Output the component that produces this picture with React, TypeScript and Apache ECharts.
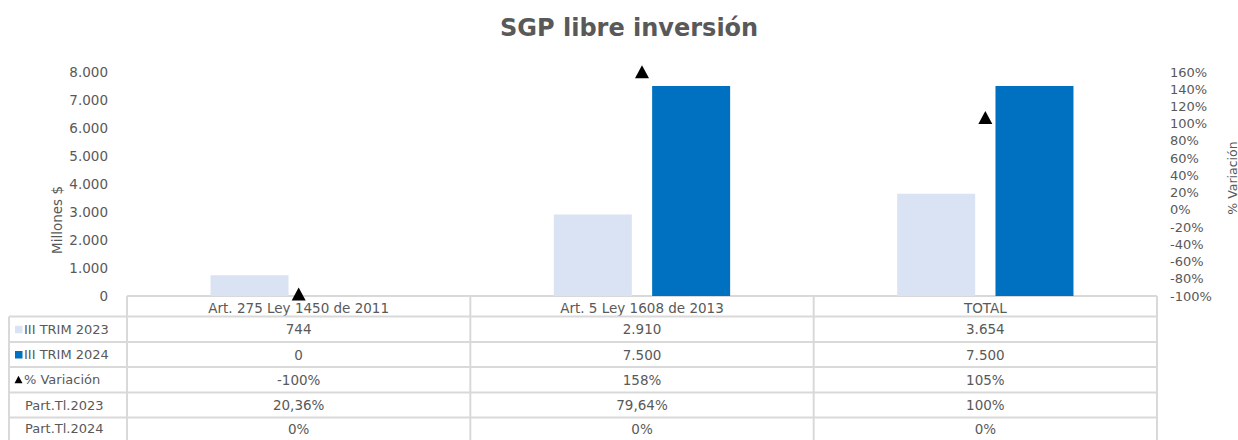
import React, { useEffect, useRef } from "react";
import * as echarts from "echarts";

const categories = ["Art. 275 Ley 1450 de 2011", "Art. 5 Ley 1608 de 2013", "TOTAL"];
const trim2023 = [744, 2910, 3654];
const trim2024 = [0, 7500, 7500];
const variacion = [-100, 158, 105];
const part2023 = ["20,36%", "79,64%", "100%"];
const part2024 = ["0%", "0%", "0%"];
const seriesNames = ["III TRIM 2023", "III TRIM 2024", "% Variación"];
const partNames = ["Part.Tl.2023", "Part.Tl.2024"];

const LIGHT = "#DAE3F3";
const DARK = "#0070C0";
const TEXT = "#595959";
const GRIDLINE = "#d9d9d9";
const FONT = "'DejaVu Sans', Verdana, sans-serif";

const fmt = (n: number) => String(n).replace(/\B(?=(\d{3})+(?!\d))/g, ".");

export default function App() {
  const ref = useRef<HTMLDivElement>(null);
  useEffect(() => {
    if (!ref.current) return;
    const chart = echarts.init(ref.current, null, { renderer: "svg" });
    const W = 1238;
    const gl = 127, gr = 1157, gt = 72, gb = 296;
    const rowYs = [296, 316.5, 342, 367, 392.5, 417.5, 440];
    const labelLeft = 9;
    const colW = (gr - gl) / categories.length;

    const rows = [
      { name: seriesNames[0], key: "square", color: LIGHT, vals: trim2023.map(fmt) },
      { name: seriesNames[1], key: "square", color: DARK, vals: trim2024.map(fmt) },
      { name: seriesNames[2], key: "triangle", color: "#000", vals: variacion.map((v) => v + "%") },
      { name: partNames[0], key: null, color: "", vals: part2023 },
      { name: partNames[1], key: null, color: "", vals: part2024 },
    ];

    const g: any[] = [];
    const line = (x1: number, y1: number, x2: number, y2: number) =>
      g.push({ type: "line", silent: true, shape: { x1, y1, x2, y2 }, style: { stroke: GRIDLINE, lineWidth: 2 }, z: 1 });
    line(gl, rowYs[0], gr, rowYs[0]);
    for (let i = 1; i < rowYs.length - 1; i++) line(labelLeft, rowYs[i], gr, rowYs[i]);
    line(labelLeft, rowYs[1], labelLeft, 440);
    for (let c = 0; c <= categories.length; c++) line(gl + c * colW, rowYs[0], gl + c * colW, 440);

    rows.forEach((r, i) => {
      const cy = (rowYs[i + 1] + rowYs[i + 2]) / 2;
      if (r.key === "square") {
        g.push({ type: "rect", shape: { x: 15, y: cy - 3.5, width: 7.5, height: 7.5 }, style: { fill: r.color } });
      } else if (r.key === "triangle") {
        g.push({ type: "polygon", shape: { points: [[18.5, cy - 4], [22.5, cy + 3.5], [14.5, cy + 3.5]] }, style: { fill: "#000" } });
      }
      g.push({
        type: "text",
        x: r.key ? 24 : 25,
        y: cy,
        style: { text: r.name, fill: TEXT, font: `13px ${FONT}`, align: "left", verticalAlign: "middle" },
      });
      r.vals.forEach((v, c) => {
        g.push({
          type: "text",
          x: gl + colW * (c + 0.5),
          y: cy,
          style: { text: v, fill: TEXT, font: `13.5px ${FONT}`, align: "center", verticalAlign: "middle" },
        });
      });
    });

    g.push({
      type: "text", x: 57, y: 220, rotation: Math.PI / 2,
      style: { text: "Millones $", fill: TEXT, font: `13.5px ${FONT}`, align: "center", verticalAlign: "middle" },
    });
    g.push({
      type: "text", x: 1232, y: 178, rotation: Math.PI / 2,
      style: { text: "% Variación", fill: TEXT, font: `12.5px ${FONT}`, align: "center", verticalAlign: "middle" },
    });

    chart.setOption({
      animation: false,
      title: {
        text: "SGP libre inversión",
        left: 495,
        top: 11,
        textStyle: { fontFamily: FONT, fontSize: 24, fontWeight: "bold", color: TEXT },
      },
      grid: { left: gl, right: W - gr, top: gt, bottom: 440 - gb, containLabel: false },
      xAxis: {
        type: "category",
        data: categories,
        axisLine: { show: false },
        axisTick: { show: false },
        axisLabel: { color: TEXT, fontFamily: FONT, fontSize: 13.5, margin: 5, interval: 0 },
      },
      yAxis: [
        {
          type: "value", min: 0, max: 8000, interval: 1000,
          splitLine: { show: false }, axisLine: { show: false }, axisTick: { show: false },
          axisLabel: { color: TEXT, fontFamily: FONT, fontSize: 13.5, margin: 19, formatter: (v: number) => fmt(v) },
        },
        {
          type: "value", min: -100, max: 160, interval: 20,
          splitLine: { show: false }, axisLine: { show: false }, axisTick: { show: false },
          axisLabel: { color: TEXT, fontFamily: FONT, fontSize: 13, margin: 13, align: "left", formatter: (v: number) => v + "%" },
        },
      ],
      series: [
        { name: seriesNames[0], type: "bar", data: trim2023, barWidth: 78, barGap: "26%", itemStyle: { color: LIGHT } },
        { name: seriesNames[1], type: "bar", data: trim2024, barWidth: 78, itemStyle: { color: DARK } },
        {
          name: seriesNames[2], type: "scatter", yAxisIndex: 1, data: variacion, clip: false,
          symbol: "triangle", symbolSize: [14, 13], symbolOffset: [0, -2], itemStyle: { color: "#000", opacity: 1 }, z: 5,
        },
      ],
      graphic: g,
    });
    return () => chart.dispose();
  }, []);
  return <div ref={ref} style={{ position: "absolute", left: 0, top: 0, width: 1238, height: 440 }} />;
}
